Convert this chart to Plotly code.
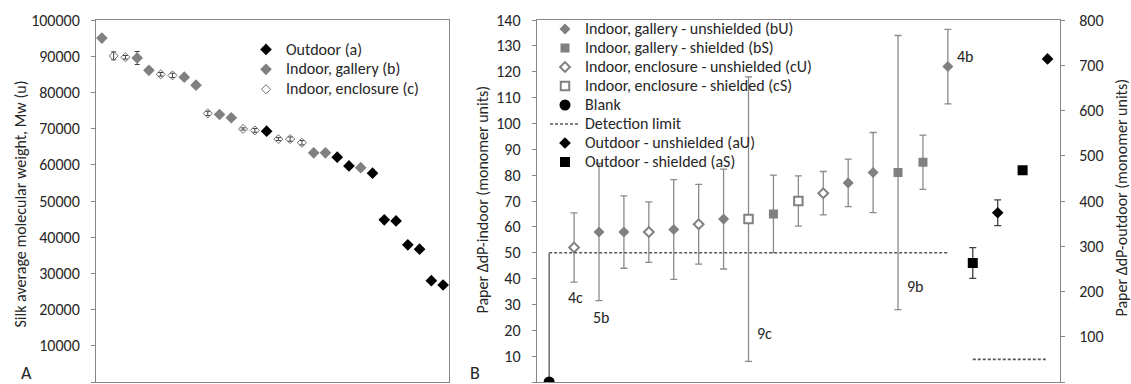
import plotly.graph_objects as go

# ---------------- Panel A: silk weight-average molecular weight ----------------
silk_env = ["b", "c", "c", "b", "b", "c", "c", "b", "b", "c", "b", "b", "c", "c", "a",
            "c", "c", "c", "b", "b", "a", "a", "b", "a", "a", "a", "a", "a", "a", "a"]
silk_mw = [95000, 90100, 89700, 89500, 86100, 85000, 84700, 84200, 82000, 74200,
           73900, 73000, 69900, 69500, 69300, 67100, 67100, 66100, 63300, 63300,
           62100, 59700, 59200, 57700, 44800, 44500, 37900, 36700, 28000, 26800]
silk_err = [0, 1100, 500, 1800, 0, 500, 600, 0, 0, 600,
            0, 0, 300, 500, 0, 400, 600, 600, 0, 0,
            0, 0, 0, 0, 0, 0, 0, 0, 0, 0]
silk_env_names = {"a": "Outdoor (a)", "b": "Indoor, gallery (b)", "c": "Indoor, enclosure (c)"}
silk_yticks = list(range(0, 100001, 10000))

# ---------------- Panel B: paper degree-of-polymerisation change ----------------
paper_group = ["Blank", "cU", "bU", "bU", "cU", "bU", "cU", "bU", "cS", "bS", "cS",
               "cU", "bU", "bU", "bS", "bS", "bU", "aS", "aU", "aS", "aU"]
paper_ddp = [0, 52, 58, 58, 58, 59, 61, 63, 63, 65, 70,
             73, 77, 81, 81, 85, 122, 263, 374, 468, 714]
paper_err = [50, 13.4, 26.5, 14, 11.7, 19.3, 15.4, 19.3, 55, 15, 9.7,
             8.4, 9.2, 15.5, 53, 10.5, 14.4, 34, 28.5, 0, 0]
paper_tag = ["", "4c", "5b", "", "", "", "", "", "9c", "", "",
             "", "", "", "9b", "", "4b", "", "", "", ""]
paper_group_names = {
    "bU": "Indoor, gallery - unshielded (bU)",
    "bS": "Indoor, gallery - shielded (bS)",
    "cU": "Indoor, enclosure - unshielded (cU)",
    "cS": "Indoor, enclosure - shielded (cS)",
    "Blank": "Blank",
    "aU": "Outdoor - unshielded (aU)",
    "aS": "Outdoor - shielded (aS)",
}
detection_limit_indoor = 50
detection_limit_outdoor = 50
indoor_yticks = list(range(0, 141, 10))
outdoor_yticks = list(range(0, 801, 100))

FONT = "Carlito, Calibri, Lato, sans-serif"
TXT = "#262626"
AXC = "#868686"
GRAY = "#808080"
TEXT_PX = 16


def legend_label(s):
    return '<span style="font-size:%dpx">%s</span>' % (TEXT_PX, s)


fig = go.Figure()

# ---- panel A traces
silk_x = list(range(1, len(silk_mw) + 1))
silk_style = {
    "a": dict(symbol="diamond", size=9, color="black", line=dict(width=0)),
    "b": dict(symbol="diamond", size=9, color=GRAY, line=dict(width=0)),
    "c": dict(symbol="diamond-open", size=7, color="#6f6f6f", line=dict(width=1)),
}
for env in ["a", "b", "c"]:
    idx = [i for i, e in enumerate(silk_env) if e == env]
    fig.add_trace(go.Scatter(
        x=[silk_x[i] for i in idx], y=[silk_mw[i] for i in idx],
        mode="markers", name=legend_label(silk_env_names[env]),
        marker=silk_style[env],
        error_y=dict(type="data", array=[silk_err[i] for i in idx], visible=True,
                     color="#404040", thickness=1, width=2.5),
        xaxis="x", yaxis="y", legend="legend",
    ))

# ---- panel B traces
paper_x = list(range(1, len(paper_ddp) + 1))
paper_style = {
    "bU": dict(symbol="diamond", size=8.5, color=GRAY, line=dict(width=0)),
    "bS": dict(symbol="square", size=9, color=GRAY, line=dict(width=0)),
    "cU": dict(symbol="diamond", size=7.5, color="white", line=dict(width=2, color=GRAY)),
    "cS": dict(symbol="square", size=8.5, color="white", line=dict(width=2, color=GRAY)),
    "Blank": dict(symbol="circle", size=11, color="black", line=dict(width=0)),
    "aU": dict(symbol="diamond", size=9, color="black", line=dict(width=0)),
    "aS": dict(symbol="square", size=10, color="black", line=dict(width=0)),
}


def add_group(code):
    idx = [i for i, g in enumerate(paper_group) if g == code]
    outdoor = code.startswith("a")
    err = dict(type="data", array=[paper_err[i] for i in idx], visible=True,
               color="#404040" if outdoor else "#8a8a8a", thickness=1.3, width=3.5)
    if code == "Blank":
        err.update(symmetric=False, arrayminus=[0 for _ in idx], color="#595959", width=0)
    fig.add_trace(go.Scatter(
        x=[paper_x[i] for i in idx], y=[paper_ddp[i] for i in idx],
        mode="markers", name=legend_label(paper_group_names[code]),
        marker=paper_style[code], error_y=err,
        xaxis="x2", yaxis="y3" if outdoor else "y2", legend="legend2",
    ))


for code in ["bU", "bS", "cU", "cS", "Blank"]:
    add_group(code)

indoor_x = [paper_x[i] for i, g in enumerate(paper_group) if not g.startswith("a")]
outdoor_x = [paper_x[i] for i, g in enumerate(paper_group) if g.startswith("a")]
limit_line = dict(color="#595959", width=1.6, dash="3px,2px")
fig.add_trace(go.Scatter(
    x=[min(indoor_x), max(indoor_x)], y=[detection_limit_indoor] * 2,
    mode="lines", name=legend_label("Detection limit"), line=limit_line,
    xaxis="x2", yaxis="y2", legend="legend2",
))

for code in ["aU", "aS"]:
    add_group(code)

fig.add_trace(go.Scatter(
    x=[min(outdoor_x), max(outdoor_x)], y=[detection_limit_outdoor] * 2,
    mode="lines", line=limit_line, showlegend=False,
    xaxis="x2", yaxis="y3",
))

# ---- sample labels in panel B
tag_place = {
    "4c": dict(base="low", xanchor="center", yanchor="top", xshift=1, yshift=-4),
    "5b": dict(base="low", xanchor="center", yanchor="top", xshift=2, yshift=-5),
    "9c": dict(base="low", xanchor="left", yanchor="middle", xshift=6, yshift=28),
    "9b": dict(base="low", xanchor="left", yanchor="middle", xshift=7, yshift=23),
    "4b": dict(base="mid", xanchor="left", yanchor="middle", xshift=7, yshift=10),
}
annotations = []
for i, tag in enumerate(paper_tag):
    if not tag:
        continue
    p = tag_place[tag]
    yv = paper_ddp[i] - paper_err[i] if p["base"] == "low" else paper_ddp[i]
    annotations.append(dict(
        x=paper_x[i], y=yv, xref="x2", yref="y2", text=tag, showarrow=False,
        xanchor=p["xanchor"], yanchor=p["yanchor"], xshift=p["xshift"], yshift=p["yshift"],
        font=dict(family=FONT, size=TEXT_PX, color=TXT),
    ))

W, H = 1131, 384
top_px, bot_px = 20, 382


def px_x(v):
    return v / W


def px_y(v):
    return (H - v) / H


# axis titles and panel letters
for text, xp, yp, ang, size in [
    ("Silk average molecular weight, Mw (u)", 19.5, 204, -90, TEXT_PX),
    ("Paper \u0394dP-indoor (monomer units)", 482.5, 200, -90, TEXT_PX),
    ("Paper \u0394dP-outdoor (monomer units)", 1120.5, 198, -90, TEXT_PX),
    ("A", 26.5, 372.5, 0, 18),
    ("B", 474.5, 372.5, 0, 18),
]:
    annotations.append(dict(
        x=px_x(xp), y=px_y(yp), xref="paper", yref="paper", text=text,
        showarrow=False, textangle=ang, xanchor="center", yanchor="middle",
        font=dict(family=FONT, size=size, color=TXT),
    ))

ydom = [px_y(bot_px), px_y(top_px)]
tickfont = dict(family=FONT, size=TEXT_PX, color=TXT)
common_y = dict(showgrid=False, zeroline=False, showline=True, linecolor=AXC, linewidth=1,
                ticks="outside", ticklen=4, tickcolor=AXC, tickfont=tickfont,
                automargin=False, tickformat="d")
common_x = dict(showgrid=False, zeroline=False, showline=True, linecolor=AXC, linewidth=1,
                ticks="", showticklabels=False, automargin=False)

fig.update_layout(
    width=W, height=H, margin=dict(l=0, r=0, t=0, b=0),
    paper_bgcolor="white", plot_bgcolor="white",
    font=dict(family=FONT, color=TXT),
    xaxis=dict(domain=[px_x(96), px_x(449)], range=[0.5, len(silk_mw) + 0.5],
               anchor="y", mirror=True, **common_x),
    yaxis=dict(domain=ydom, range=[0, 100000], tickvals=silk_yticks,
               anchor="x", mirror=True, ticklabelstandoff=8, **common_y),
    xaxis2=dict(domain=[px_x(536.7), px_x(1060)], range=[0.5, len(paper_ddp) + 0.5],
                anchor="y2", mirror=True, **common_x),
    yaxis2=dict(domain=ydom, range=[0, 140], tickvals=indoor_yticks, anchor="x2",
                ticklabelstandoff=8, **common_y),
    yaxis3=dict(range=[0, 800], tickvals=outdoor_yticks, overlaying="y2", side="right",
                anchor="x2", ticklabelstandoff=11, **common_y),
    legend=dict(x=px_x(246), y=px_y(34.5), xanchor="left", yanchor="top",
                bgcolor="rgba(0,0,0,0)", borderwidth=0, itemclick=False,
                font=dict(family=FONT, size=13, color=TXT)),
    legend2=dict(x=px_x(545), y=px_y(14.5), xanchor="left", yanchor="top",
                 bgcolor="rgba(0,0,0,0)", borderwidth=0, itemclick=False,
                 font=dict(family=FONT, size=12, color=TXT)),
    annotations=annotations,
    showlegend=True,
)

fig.write_html("out.html")
